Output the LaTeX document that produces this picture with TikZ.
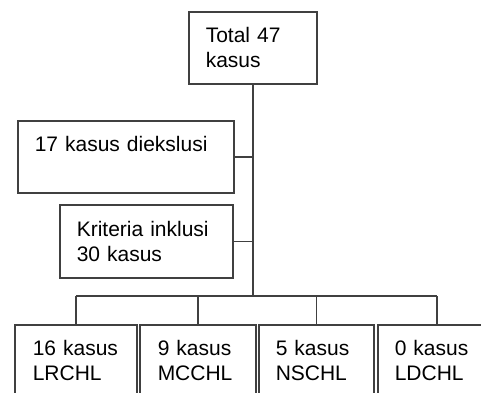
\documentclass[tikz,border=0pt]{standalone}
\usepackage{fontspec}
\setmainfont{Liberation Sans}
\usetikzlibrary{positioning}

\tikzset{
  kotak/.style={draw=black!75,line width=1.5pt,anchor=north west,align=left,
    inner xsep=17pt,inner ysep=0pt,minimum height=72pt,
    font=\fontsize{21}{25}\selectfont},
  garis/.style={draw=black!75,line width=1.5pt}
}

\begin{document}
\begin{tikzpicture}[x=1pt,y=-1pt]
\useasboundingbox (0,0) rectangle (481,392);
\clip (0,0) rectangle (481,392);

\node[kotak,text width=94pt] (total) at (188,11) {Total 47\\kasus};
\node[kotak,text width=182pt] (eksklusi) at (17,120) {17 kasus diekslusi\\\mbox{}};
\node[kotak,text width=139pt,minimum height=73pt] (inklusi) at (59,204) {Kriteria inklusi\\30 kasus};

%% four groups at the bottom
\node[kotak,inner xsep=18pt,text width=86pt] (lrchl) at (14,324) {16 kasus\\LRCHL};
\node[kotak,inner xsep=18pt,text width=80pt] (mcchl) at (139,324) {9 kasus\\MCCHL};
\node[kotak,text width=81pt] (nschl) at (258,324) {5 kasus\\NSCHL};
\node[kotak,text width=84pt] (ldchl) at (377,324) {0 kasus\\LDCHL};

\coordinate (cabang) at (total.south |- 0,296);

\draw[garis] (total.south) -- (cabang);
\draw[garis] (eksklusi.east) -- (eksklusi.east -| total.south);
\draw[garis] (inklusi.east) -- (inklusi.east -| total.south);
\draw[garis] (lrchl.north |- cabang) -- (ldchl.north |- cabang);
\foreach \n in {lrchl,mcchl,nschl,ldchl}
  \draw[garis] (\n.north) -- (\n.north |- cabang);
\end{tikzpicture}
\end{document}
